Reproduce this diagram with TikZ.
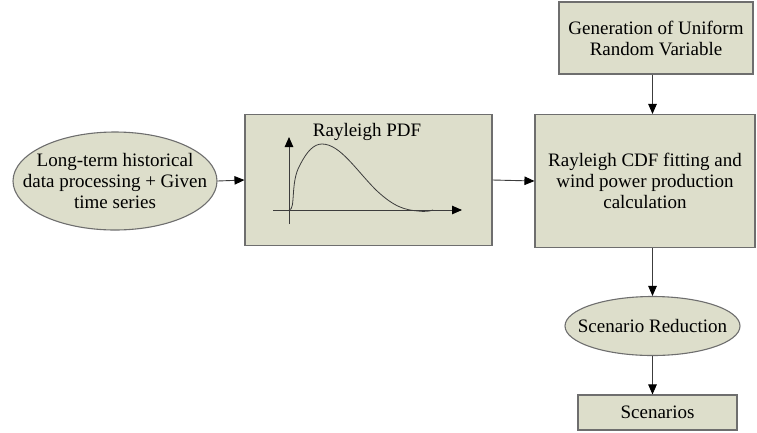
\documentclass[tikz,border=0pt]{standalone}
\usepackage{fontspec}
\setmainfont{Liberation Serif}
\usetikzlibrary{shapes.geometric,arrows.meta}
\definecolor{boxfill}{RGB}{221,222,203}
\definecolor{boxline}{RGB}{110,110,110}
\definecolor{linkline}{RGB}{60,60,60}
\tikzset{
  lbl/.style={font=\fontsize{19}{21}\selectfont, align=center, text=black},
  stepbox/.style={lbl, rectangle, draw=boxline, line width=1.1pt, fill=boxfill, inner sep=0pt},
  oval/.style={ellipse, draw=boxline, line width=1.1pt, fill=boxfill, inner sep=0pt},
  link/.style={draw=linkline, line width=0.9pt, -{Triangle[length=10pt,width=8.5pt,color=black]}},
}
\begin{document}
\begin{tikzpicture}[x=1pt,y=-1pt]
\useasboundingbox (0,0) rectangle (757,432);

% process blocks
\node[oval, minimum width=204pt, minimum height=98pt] (hist) at (115,181) {};
\node[lbl] (histtext) at (hist.center)
  {Long-term historical\\data processing + Given\\time series};
\node[stepbox, minimum width=247pt, minimum height=131pt] (pdf) at (368.5,180) {};
\node[lbl] (pdftitle) at (367,132) {Rayleigh PDF};
\node[stepbox, minimum width=194pt, minimum height=72pt] (unif) at (656,38)
  {Generation of Uniform\\Random Variable};
\node[stepbox, minimum width=220pt, minimum height=133pt] (cdf) at (645,181)
  {Rayleigh CDF fitting and\\wind power production\\calculation};
\node[oval, minimum width=175pt, minimum height=59pt] (red) at (652.5,326) {};
\node[lbl] (redtext) at (red.center) {Scenario Reduction};
\node[stepbox, minimum width=159pt, minimum height=35pt] (scen) at (657.5,412.5)
  {Scenarios};

% sketch of the Rayleigh density inside the PDF block
\coordinate (ybot) at (289,224);
\coordinate (ytop) at (289,137);
\coordinate (xleft) at (273,210);
\coordinate (xright) at (462,210);
\draw[link] (ybot) -- (ytop);
\draw[link] (xleft) -- (xright);
\draw[linkline, line width=0.8pt]
  (289,210) .. controls (296,210) and (290,182) .. (300,165)
  .. controls (307,151) and (314,144) .. (322,144)
  .. controls (340,144) and (356,170) .. (376,190)
  .. controls (394,207) and (405,210) .. (418,211)
  .. controls (426,212) and (430,211) .. (433,210);

% connectors
\draw[link] (hist.east) -- (pdf.west);
\draw[link] (pdf.east) -- (cdf.west);
\draw[link] (unif.south -| red.north) -- (cdf.north -| red.north);
\draw[link] (cdf.south -| red.north) -- (red.north);
\draw[link] (red.south) -- (red.south |- scen.north);
\end{tikzpicture}
\end{document}
